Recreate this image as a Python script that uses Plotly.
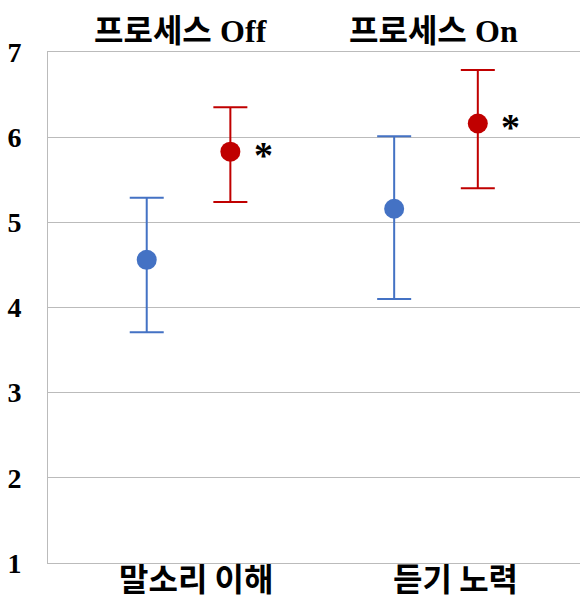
import plotly.graph_objects as go

# ---- data ----
groups = ["프로세스 Off", "프로세스 On"]
measures = ["말소리 이해", "듣기 노력"]
blue_mean = [4.56, 5.16]
blue_upper = [5.29, 6.01]
blue_lower = [3.71, 4.10]
red_mean = [5.83, 6.16]
red_upper = [6.35, 6.79]
red_lower = [5.24, 5.40]
sig_marks = ["*", "*"]
y_ticks = [1, 2, 3, 4, 5, 6, 7]

# ---- layout constants ----
group_pos = list(range(len(groups)))
offset = 0.169
BLUE = "#4472C4"
RED = "#C00000"
GRID = "#BBBBBB"

fig = go.Figure()

def add_series(means, upper, lower, color, shift):
    xs = [g + shift for g in group_pos]
    fig.add_trace(go.Scatter(
        x=xs, y=means, mode="markers",
        marker=dict(color=color, size=20),
        error_y=dict(type="data", symmetric=False,
                     array=[u - m for u, m in zip(upper, means)],
                     arrayminus=[m - l for m, l in zip(means, lower)],
                     color=color, thickness=2, width=17),
        showlegend=False, hoverinfo="skip"))

add_series(blue_mean, blue_upper, blue_lower, BLUE, -offset)
add_series(red_mean, red_upper, red_lower, RED, offset)

# significance marks
for g, m, s in zip(group_pos, red_mean, sig_marks):
    fig.add_annotation(x=g + offset, y=m, text=s, showarrow=False,
                       xshift=33, yshift=-3,
                       font=dict(family="Liberation Serif", size=38, color="black", weight="bold"))

# group titles on top
for g, t in zip(group_pos, groups):
    ko, en = t.split(" ")
    fig.add_annotation(x=g, y=1.0, xref="x", yref="paper", yanchor="middle", yshift=24,
                       xshift=[-8, -2][g],
                       text=f"<span style='font-family:Noto Sans CJK KR'>{ko}</span> "
                            f"<span style='font-family:Liberation Serif'>{en}</span>",
                       showarrow=False,
                       font=dict(size=32, color="black", weight="bold"))

# measure labels at bottom
for g, t in zip(group_pos, measures):
    fig.add_annotation(x=g, y=0, xref="x", yref="paper", yanchor="bottom", yshift=-39,
                       xshift=[7, 20][g],
                       text=t, showarrow=False,
                       font=dict(family="Noto Sans CJK KR", size=32, color="black", weight="bold"))

fig.update_layout(
    width=581, height=602,
    margin=dict(l=48, r=1, t=52, b=39, autoexpand=False),
    paper_bgcolor="white", plot_bgcolor="white",
    xaxis=dict(range=[-0.568, 1.582], showticklabels=False, showgrid=False, automargin=False,
               zeroline=False, showline=True, linecolor=GRID, linewidth=1, mirror=True),
    yaxis=dict(range=[1, 7], tickvals=y_ticks, showgrid=True, gridcolor=GRID, gridwidth=1,
               automargin=False,
               zeroline=False, showline=True, linecolor=GRID, linewidth=1,
               ticks="", ticklabelstandoff=20,
               tickfont=dict(family="Liberation Serif", size=28, color="black", weight="bold")),
)

fig.write_html("out.html", config={"displayModeBar": False},
               post_script="document.body.style.margin='0';document.body.style.padding='0';"
                           "document.body.style.overflow='hidden';")
